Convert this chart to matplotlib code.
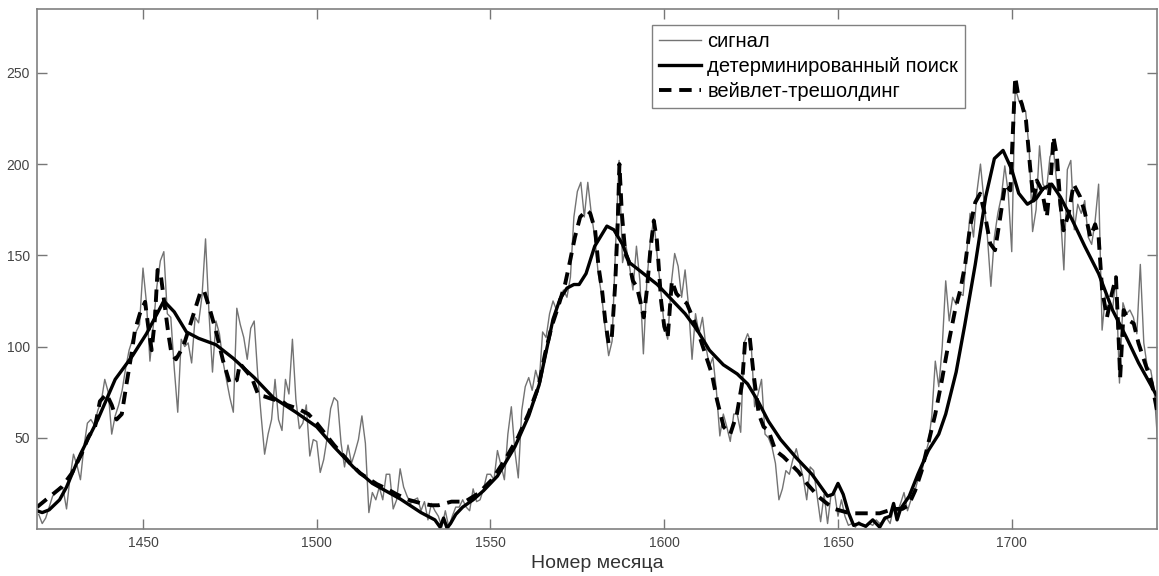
import matplotlib
matplotlib.use("Agg")
import matplotlib.pyplot as plt
import numpy as np

plt.rcParams['font.family'] = ['Liberation Sans', 'DejaVu Sans']

# номер месяца, сигнал (ежемесячные значения 1420..1742)
month_start = 1420
signal = [
    8, 3, 6, 12, 18, 20, 23, 22, 11, 28,
    41, 35, 27, 45, 58, 60, 57, 65, 70, 82,
    75, 52, 62, 68, 76, 88, 98, 104, 108, 112,
    143, 124, 92, 112, 133, 147, 152, 118, 116, 88,
    64, 104, 100, 102, 91, 116, 113, 128, 159, 118,
    86, 114, 107, 92, 82, 72, 64, 121, 112, 105,
    93, 110, 114, 85, 62, 41, 52, 60, 82, 60,
    54, 82, 74, 104, 71, 55, 58, 68, 40, 49,
    48, 31, 38, 50, 66, 72, 70, 47, 34, 46,
    36, 42, 49, 62, 47, 9, 20, 16, 23, 16,
    30, 30, 11, 16, 33, 23, 18, 14, 16, 17,
    10, 15, 5, 14, 10, 7, 1, 10, 1, 7,
    12, 12, 16, 12, 10, 22, 15, 16, 22, 30,
    30, 27, 43, 35, 27, 52, 67, 43, 28, 65,
    78, 83, 76, 87, 80, 108, 105, 118, 125, 120,
    127, 131, 127, 138, 171, 185, 190, 171, 190, 173,
    160, 140, 128, 110, 95, 103, 155, 202, 146, 155,
    144, 131, 155, 136, 96, 136, 158, 170, 149, 131,
    111, 104, 134, 151, 144, 127, 142, 122, 93, 118,
    107, 116, 100, 89, 94, 76, 51, 63, 56, 48,
    63, 63, 53, 102, 107, 102, 67, 74, 82, 52,
    50, 45, 36, 16, 22, 32, 30, 38, 44, 36,
    28, 16, 34, 32, 18, 4, 19, 3, 19, 20,
    7, 16, 7, 2, 3, 1, 4, 2, 1, 3,
    2, 5, 3, 4, 6, 3, 12, 9, 14, 20,
    10, 16, 20, 27, 30, 40, 47, 62, 92, 78,
    100, 136, 114, 127, 123, 129, 128, 150, 173, 160,
    185, 200, 180, 160, 133, 160, 173, 182, 199, 184,
    152, 242, 235, 231, 229, 208, 163, 175, 210, 189,
    186, 204, 208, 189, 173, 142, 197, 202, 164, 178,
    173, 180, 160, 156, 169, 189, 109, 129, 124, 120,
    138, 80, 124, 118, 120, 116, 107, 145, 102, 89,
    87, 76, 47,
]
months = np.arange(month_start, month_start + len(signal))

# детерминированный поиск
det_x = [1419.5, 1421, 1423, 1426, 1428, 1432, 1437, 1442, 1447, 1451, 1456, 1459,
         1462.5, 1466, 1471, 1476, 1482, 1487.5, 1494, 1500, 1505, 1510.5, 1516, 1524,
         1530, 1534, 1535.5, 1536.5, 1537.5, 1538.5, 1540, 1542, 1545, 1548, 1552, 1557,
         1561, 1564, 1566, 1568, 1570, 1572, 1574, 1575.5, 1577.5, 1580, 1583.5, 1585.5,
         1588, 1590, 1594, 1598, 1602, 1606, 1609.5, 1613, 1617, 1621, 1624, 1627, 1630,
         1633.5, 1638, 1642.5, 1647, 1648.5, 1650, 1651.5, 1653, 1654.5, 1656, 1658, 1660,
         1662, 1663.5, 1665, 1666, 1667, 1668, 1670.5, 1673, 1676, 1679, 1681, 1684,
         1686.5, 1689.5, 1692.5, 1695, 1697.5, 1700, 1702, 1704.5, 1707, 1709, 1711.5,
         1714, 1717.5, 1721, 1725, 1729, 1733, 1736.5, 1740, 1742]
det_y = [10, 9, 10.5, 16, 23, 41, 60, 82, 95, 107, 125, 119,
         108, 104.5, 101, 93.5, 83, 72, 64, 56, 45, 34, 25, 16.5,
         9, 5, 1, 6, 0.5, 3, 8, 12, 16, 21, 29, 45,
         62, 79, 97, 115, 126, 132, 134, 134, 140, 155, 166, 164,
         156, 146, 140, 134, 126, 118, 109, 98, 90, 85, 79.5, 70, 59,
         49, 39, 30, 18, 19, 25, 19, 9, 2, 3, 1.5, 5,
         1, 6, 7, 14, 5, 11, 18, 30, 43, 52, 63, 86,
         112, 145, 182, 203, 207.5, 197, 184, 178, 181, 186.5, 189,
         182, 169, 155, 140, 120, 105, 91, 79, 72]

# вейвлет-трешолдинг
wav_x = [1419.5, 1422.7, 1426.6, 1429.5, 1432.3, 1434.3, 1436.2, 1437.6, 1439.5, 1441,
         1442.4, 1443.9, 1445.3, 1446.7, 1447.7, 1449.1, 1450.6, 1451.5, 1452.5, 1453.4,
         1454.2, 1455.2, 1456.3, 1457.3, 1458.2, 1459.5, 1461.6, 1464, 1466.4, 1467.5,
         1469.3, 1471.2, 1473, 1475, 1477, 1477.9, 1479.5, 1481.3, 1483.2, 1484.7, 1487.5,
         1490, 1491.4, 1494.5, 1497.6, 1500, 1505, 1510.1, 1512.5, 1517.3, 1520.2, 1523,
         1526.4, 1530.2, 1533, 1535, 1538.8, 1542.7, 1546.5, 1550.4, 1554.2, 1558, 1560.9,
         1563.8, 1565.7, 1567.6, 1569.5, 1571.5, 1572.9, 1574.3, 1575.8, 1577.7, 1578.7,
         1580.1, 1581.1, 1582.1, 1583, 1584, 1584.9, 1585.9, 1586.6, 1587.1, 1587.8, 1588.8,
         1589.7, 1591, 1592.1, 1593.1, 1594.1, 1595, 1596, 1597, 1597.9, 1599.1, 1600, 1601,
         1602.2, 1603.5, 1605, 1606.5, 1608.5, 1609.9, 1611.8, 1613.7, 1615.2, 1617.1, 1619,
         1620.9, 1622.4, 1623.3, 1624.6, 1625.7, 1627.2, 1628.6, 1630, 1632, 1634.3, 1638.6,
         1641, 1644.4, 1646.8, 1649, 1653.5, 1658, 1662, 1666, 1668.5, 1670.3, 1672.2,
         1674.1, 1676, 1678, 1679.9, 1681.8, 1683.7, 1685.2, 1686.6, 1688, 1689.5, 1690.9,
         1692.4, 1693.8, 1695.2, 1696.7, 1698.1, 1699.6, 1700.5, 1701, 1701.8, 1702.9,
         1704.1, 1705.3, 1706.3, 1707.2, 1708.7, 1710.1, 1711.4, 1712, 1713, 1714, 1714.9,
         1716.4, 1717.8, 1719.7, 1721.1, 1722.6, 1724, 1725, 1726, 1727.4, 1728.8, 1730,
         1730.7, 1731.2, 1732.2, 1733.6, 1735.1, 1736.5, 1738.4, 1740.3, 1742]
wav_y = [12, 17, 23, 30.5, 41, 50.6, 56, 70, 74, 68,
         60, 63, 80, 96, 109, 118, 124.5, 111, 98, 114.5,
         142, 138, 122, 107, 96, 93, 100, 114.5, 129, 131,
         120, 107, 92.5, 79.8, 81.6, 90.7, 87, 83, 73.4, 72.8, 71,
         70, 68, 66, 63, 58, 46, 35, 30.5, 24.6, 22, 19,
         16, 14, 13, 13, 15, 15, 19.5, 27, 38, 50.6, 63,
         78, 96, 111, 122, 134.5, 147, 160, 171, 174.7, 173,
         164, 143.7, 131, 114.5, 101.7, 105, 134.5, 167, 200, 173, 151,
         147, 136, 132.7, 125, 116, 131, 152.8, 169, 158, 125, 111, 105,
         136, 129, 126, 123.6, 114.5, 107, 96, 85, 70.6, 56, 52,
         63, 79.8, 103.5, 105, 85, 63, 56, 54, 43, 39.6, 31.4,
         25, 17.7, 14, 11, 8.6, 8.6, 8.6, 11, 11, 13, 21,
         32, 47, 63, 81.6, 101.7, 120, 131, 145, 165.6, 179, 183.8,
         171, 156.4, 152.8, 171, 189, 185.6, 225.8, 247.7, 238.6, 233,
         224, 198, 180, 191, 185.6, 171, 196.6, 215, 204, 178, 163.7,
         173, 189, 182, 173, 160, 167, 160, 131, 116, 129, 138,
         107, 83, 120, 114.5, 112.6, 101.7, 90.7, 80, 63]

fig = plt.figure(figsize=(11.59, 5.76), dpi=100)
ax = fig.add_axes([37 / 1159, 1 - 529 / 576, (1157 - 37) / 1159, (529 - 9) / 576])

ax.plot(months, signal, color='#737373', lw=1.0, label='сигнал')
ax.plot(det_x, det_y, color='black', lw=2.4, label='детерминированный поиск')
ax.plot(wav_x, wav_y, color='black', lw=2.8, dashes=(3.2, 2.0), label='вейвлет-трешолдинг')

ax.set_xlim(1419.5, 1741.8)
ax.set_ylim(0, 285)
ax.set_xticks([1450, 1500, 1550, 1600, 1650, 1700])
ax.set_yticks([50, 100, 150, 200, 250])
ax.tick_params(direction='in', length=7, width=1, colors='#777777', labelcolor='#444444',
               labelsize=10, top=True, right=True, pad=5)
for s in ax.spines.values():
    s.set_color('#808080')
    s.set_linewidth(1.2)
ax.set_xlabel('Номер месяца', fontsize=14, color='#333333', labelpad=4)

leg = ax.legend(loc='upper left', bbox_to_anchor=(652 / 1159, 1 - 25 / 576),
                bbox_transform=fig.transFigure, borderaxespad=0, fontsize=14.5,
                fancybox=False, framealpha=1, edgecolor='#808080',
                handlelength=2.1, handletextpad=0.3, labelspacing=0.3,
                borderpad=0.35)
leg.get_frame().set_linewidth(1.0)

fig.savefig('out.png', dpi=100)
